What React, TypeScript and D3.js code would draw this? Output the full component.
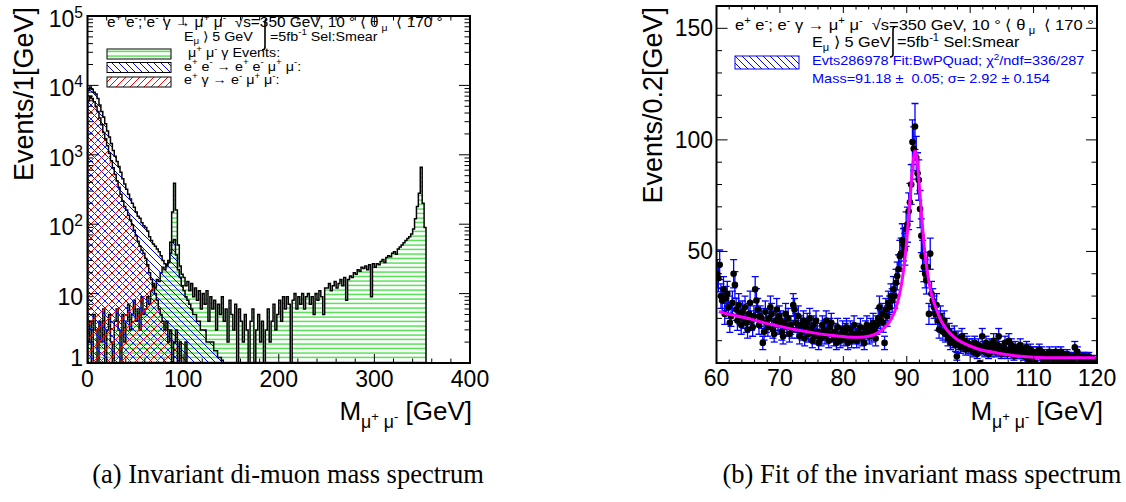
import * as d3 from "d3";

const SANS = "'Liberation Sans', Arial, Helvetica, sans-serif";
const SERIF = "'Liberation Serif', 'Times New Roman', serif";

// ---- left panel: di-muon mass, 2 GeV bins starting at 0 ----
const massBin = 2;
// mu+ mu- gamma events (green), 0 .. 354 GeV
const mumugamma = [
  2, 4, 1, 5, 3, 0, 4, 2, 6, 1, 3, 5, 2, 0, 4, 6, 3, 1, 5, 2,
  4, 7, 3, 5, 8, 4, 6, 3, 9, 5,
  6, 9, 7, 11, 14, 12, 16, 15, 20, 24, 22, 26, 30, 55, 150, 390, 160, 50, 25, 19,
  17, 13, 15, 11, 14, 9, 12, 8, 11, 6, 10, 7, 11, 4, 9, 6, 8, 3, 7, 5,
  9, 4, 6, 2, 8, 5, 3, 7, 1, 6, 4, 2, 5, 3, 0, 4, 6, 1, 3, 5,
  2, 4, 1, 3, 6, 2, 4, 7, 3, 5,
  8, 4, 9, 6, 9, 7, 0, 8, 10, 6, 9, 7, 10, 6, 9, 10, 7, 9, 5, 10,
  8, 11, 9, 5, 12,
  12, 14, 11, 13, 15, 12, 14, 16, 13, 17, 8, 16, 18, 17, 20, 19, 22, 21, 24, 23,
  25, 22, 26, 9, 27,
  24, 27, 26, 29, 31, 28, 33, 35, 34, 38, 40, 37, 44, 47, 50, 54, 58, 62, 66, 72,
  85, 120, 180, 280, 660, 200, 90,
];
// e+ e- -> e+ e- mu+ mu- (blue), 0 .. 144 GeV
const eeToEeMuMu = [
  8500, 9500, 8800, 8000, 7500, 6500, 5200, 4200, 3500, 2800,
  2200, 1800, 1450, 1150, 950, 800, 680, 560, 450, 380,
  320, 270, 230, 200, 175, 150, 130, 122, 105, 95,
  90, 80, 66, 58, 52, 48, 44, 40, 35, 30,
  27, 25, 28, 38, 55, 60, 36, 22, 17, 13,
  11, 9, 8, 7, 6, 5, 5, 4, 4, 3,
  3, 3, 2, 2, 2, 2, 1.5, 1.5, 1.2, 1.2,
  1.1, 1,
];
// e+ gamma -> e- mu+ mu- (red), 0 .. 110 GeV
const egToEMuMu = [
  6000, 7000, 6500, 5800, 5000, 4200, 3400, 2700, 2100, 1700,
  1350, 1050, 820, 650, 520, 420, 340, 270, 215, 180,
  160, 135, 115, 98, 82, 68, 57, 48, 42, 38,
  32, 26, 20, 16, 13, 10, 8, 6, 5, 4,
  3, 4, 2, 3, 1, 2, 3, 1, 2, 1,
  1, 2, 1, 1, 1,
];
const leftXTicks = [0, 100, 200, 300, 400];
const leftYDecades = [0, 1, 2, 3, 4, 5];

// ---- right panel: Z peak fit, 0.2 GeV bins from 60 to 120 ----
const fitBin = 0.2;
const fitCounts = [
  40, 38, 44, 30, 28, 33, 22, 29, 31, 25,
  18, 21, 27, 40, 35, 24, 19, 26, 22, 17,
  23, 20, 25, 18, 15, 22, 27, 19, 16, 21,
  33, 28, 24, 17, 21, 20, 9, 14, 23, 18,
  16, 20, 25, 22, 15, 13, 19, 24, 17, 21,
  19, 14, 12, 18, 22, 16, 20, 13, 17, 15,
  26, 24, 18, 15, 21, 12, 17, 14, 19, 11,
  16, 18, 13, 20, 15, 10, 17, 12, 19, 14,
  9, 13, 11, 17, 15, 12, 19, 14, 10, 16,
  18, 13, 11, 14, 9, 16, 12, 10, 13, 15,
  11, 14, 16, 9, 12, 15, 10, 13, 17, 12,
  10, 14, 12, 16, 11, 13, 9, 15, 17, 14,
  12, 16, 13, 18, 15, 11, 17, 20, 25, 19,
  22, 18, 9, 24, 21, 27, 25, 30, 28, 33,
  30, 36, 39, 42, 48, 49, 55, 53, 51, 60,
  62, 68, 72, 80, 99, 96, 106, 92, 85, 82,
  69, 57, 48, 43, 40, 37, 43, 22, 49, 31,
  28, 25, 22, 26, 19, 15, 21, 18, 14, 19,
  13, 16, 11, 14, 9, 12, 10, 13, 8, 3,
  11, 9, 7, 12, 8, 10, 6, 9, 7, 8,
  6, 8, 5, 9, 7, 4, 8, 0, 6, 12,
  7, 5, 9, 6, 4, 8, 5, 7, 10, 6,
  5, 8, 12, 6, 4, 7, 5, 9, 6, 4,
  10, 6, 8, 5, 3, 7, 4, 6, 5, 8,
  4, 6, 3, 5, 7, 2, 4, 6, 1, 5,
  3, 0, 5, 4, 6, 3, 5, 2, 4, 3,
  4, 2, 5, 3, 4, 2, 3, 5, 2, 4,
  3, 5, 2, 4, 3, 2, 4, 3, 2, 3,
  2, 1, 7, 4, 5, 3, 2, 0, 3, 2,
  3, 2, 1, 3, 0, 1, 2, 0, 1, 0,
];
// BW + quadratic fit
const fitCurveX = [60.4, 62, 64.7, 67, 70, 72.5, 75.3, 78, 80.5, 82.5, 84, 85.3, 86.5, 87.5, 88.2, 88.8, 89.2, 89.6, 90.0, 90.4, 90.7, 91.0, 91.3, 91.5, 91.8, 92.1, 92.4, 92.7, 93.0, 93.4, 93.8, 94.3, 94.7, 95.5, 96.3, 97.5, 98.9, 101, 104.2, 106.5, 109.5, 112, 114.8, 117, 119.8];
const fitCurveY = [23.1, 21.8, 20.2, 18.4, 16.4, 14.9, 13.5, 12.4, 11.7, 11.5, 12.0, 13.3, 15.8, 19.5, 23.9, 30, 35.9, 44, 55, 70, 80, 90, 95, 94, 86, 75, 64, 54, 46, 38, 32, 27, 23.9, 18.5, 15, 11.5, 9, 6.5, 4.5, 3.5, 2.7, 2.4, 2.3, 2.3, 2.3];
const rightXTicks = [60, 70, 80, 90, 100, 110, 120];
const rightYTicks = [50, 100, 150];

type Seg = [string, string?];
const OFF: Record<string, number> = { n: 0, sup: -0.4, sub: 0.3, ssup: 0.05 };
const SZ: Record<string, number> = { n: 1, sup: 0.68, sub: 0.68, ssup: 0.5 };

// text with super/subscripts; sx stretches it horizontally like the original output
function Rich({ x, y, segs, size, fill = "#000", anchor = "start", family = SANS, sx = 1 }: any) {
  let cur = 0;
  return (
    <text x={0} y={0} fontSize={size} fill={fill} textAnchor={anchor} fontFamily={family}
      style={{ whiteSpace: "pre" }} transform={`translate(${x},${y}) scale(${sx},1)`}>
      {segs.map(([t, k]: Seg, i: number) => {
        const off = OFF[k || "n"] * size;
        const dy = off - cur;
        cur = off;
        return <tspan key={i} dy={dy} fontSize={SZ[k || "n"] * size}>{t}</tspan>;
      })}
    </text>
  );
}

const Integral = ({ x, y0, y1 }: any) => (
  <path d={`M${x + 2},${y0} Q${x},${y0} ${x},${y0 + 3} L${x},${y1 - 3} Q${x},${y1} ${x - 3},${y1}`}
    fill="none" stroke="#000" strokeWidth={1.6} />
);

const header1: Seg[] = [["e"], ["+", "sup"], [" e"], ["-", "sup"], ["; e"], ["-", "sup"], [" γ → μ"], ["+", "sup"],
  [" μ"], ["-", "sup"], ["  √s=350 GeV, 10 ° ⟨ θ"], [" μ", "sub"], ["  ⟨ 170 °"]];
const header2a: Seg[] = [["E"], ["μ", "sub"], [" ⟩ 5 GeV"]];
const header2b: Seg[] = [["=5fb"], ["-1", "sup"], [" Sel:Smear"]];
const xTitle: Seg[] = [["M"], ["μ", "sub"], ["+", "ssup"], [" μ", "sub"], ["-", "ssup"], [" [GeV]"]];

export default function App() {
  // left scales
  const xL = d3.scaleLinear().domain([0, 400]).range([87.5, 470]);
  const yL = d3.scaleLog().domain([1, 1e5]).range([363, 16]);
  // right scales
  const xR = d3.scaleLinear().domain([60, 120]).range([716.5, 1097]);
  const yR = d3.scaleLinear().domain([0, 160]).range([363, 6]);

  const histPath = (vals: number[]) => {
    const yb = yL.range()[0];
    let d = `M${xL(0)},${yb}`;
    vals.forEach((v, i) => {
      const y = v >= 1 ? yL(v) : yb;
      d += `L${xL(i * massBin)},${y}L${xL((i + 1) * massBin)},${y}`;
    });
    return d + `L${xL(vals.length * massBin)},${yb}Z`;
  };

  const leftMinorX = d3.range(0, 401, 20);
  const leftMinorY: number[] = [];
  for (let e = 0; e < 5; e++) for (let k = 2; k < 10; k++) leftMinorY.push(k * Math.pow(10, e));
  const rightMinorX = d3.range(60, 120.01, 2);
  const rightMinorY = d3.range(0, 161, 10);

  const fitLine = d3.line<number>().x((_, i) => xR(fitCurveX[i])).y((d) => yR(d)).curve(d3.curveMonotoneX);

  const [lx0, lx1] = xL.range();
  const [ly0, ly1] = yL.range();
  const [rx0, rx1] = xR.range();
  const [ry0, ry1] = yR.range();

  return (
    <svg width={1126} height={502} style={{ position: "absolute", left: 0, top: 0, background: "#fff" }}>
      <defs>
        <pattern id="hGreen" width="8" height="4.5" patternUnits="userSpaceOnUse">
          <line x1="0" y1="2" x2="8" y2="2" stroke="#22dd22" strokeWidth="1.2" />
        </pattern>
        <pattern id="hBlue" width="7" height="7" patternUnits="userSpaceOnUse">
          <path d="M0,0L7,7M-1,6L1,8M6,-1L8,1" stroke="#0000ff" strokeWidth="1" />
        </pattern>
        <pattern id="hRed" width="7" height="7" patternUnits="userSpaceOnUse">
          <path d="M0,7L7,0M-1,1L1,-1M6,8L8,6" stroke="#ff0000" strokeWidth="1" />
        </pattern>
        <clipPath id="clipL"><rect x={lx0} y={ly1} width={lx1 - lx0} height={ly0 - ly1} /></clipPath>
        <clipPath id="clipR"><rect x={rx0} y={ry1} width={rx1 - rx0} height={ry0 - ry1} /></clipPath>
      </defs>

      {/* ===== left panel ===== */}
      <g clipPath="url(#clipL)">
        <path d={histPath(mumugamma)} fill="url(#hGreen)" stroke="#000" strokeWidth={1.5} />
        <path d={histPath(eeToEeMuMu)} fill="url(#hBlue)" stroke="#000" strokeWidth={1.5} />
        <path d={histPath(egToEMuMu)} fill="url(#hRed)" stroke="#000" strokeWidth={1.5} />
      </g>
      <rect x={lx0} y={ly1} width={lx1 - lx0} height={ly0 - ly1} fill="none" stroke="#000" strokeWidth={2} />
      <g stroke="#000" strokeWidth={1}>
        {leftMinorX.map((v) => {
          const len = v % 100 === 0 ? 9 : 4.5;
          return (
            <g key={v}>
              <line x1={xL(v)} x2={xL(v)} y1={ly0} y2={ly0 - len} />
              <line x1={xL(v)} x2={xL(v)} y1={ly1} y2={ly1 + len} />
            </g>
          );
        })}
        {leftYDecades.map((e) => (
          <g key={e}>
            <line x1={lx0} x2={lx0 + 11} y1={yL(10 ** e)} y2={yL(10 ** e)} />
            <line x1={lx1} x2={lx1 - 11} y1={yL(10 ** e)} y2={yL(10 ** e)} />
          </g>
        ))}
        {leftMinorY.map((v) => (
          <g key={v}>
            <line x1={lx0} x2={lx0 + 5.5} y1={yL(v)} y2={yL(v)} />
            <line x1={lx1} x2={lx1 - 5.5} y1={yL(v)} y2={yL(v)} />
          </g>
        ))}
      </g>
      {leftXTicks.map((v) => (
        <text key={v} x={xL(v)} y={387} textAnchor="middle" fontFamily={SANS} fontSize={23}>{v}</text>
      ))}
      {leftYDecades.map((e) => (
        <Rich key={e} x={83} y={e === 0 ? 366 : yL(10 ** e) + 11} size={23} anchor="end"
          segs={e === 0 ? [["1"]] : e === 1 ? [["10"]] : [["10"], [String(e), "sup"]]} />
      ))}
      <text transform="translate(33,7) rotate(-90)" textAnchor="end" fontFamily={SANS} fontSize={27}>Events/1[GeV]</text>
      <Rich x={472} y={420} size={26} anchor="end" segs={xTitle} />

      {/* left header + legend */}
      <Rich x={107} y={27} size={14} sx={1.1} segs={header1} />
      <Rich x={184} y={40.5} size={13} sx={1.1} segs={header2a} />
      <Integral x={265} y0={19} y1={50} />
      <Rich x={270} y={40.5} size={13} sx={1.1} segs={header2b} />
      <rect x={107} y={49} width={64} height={10} fill="url(#hGreen)" stroke="#000" strokeWidth={1} />
      <rect x={107} y={62.5} width={64} height={10} fill="url(#hBlue)" stroke="#000" strokeWidth={1} />
      <rect x={107} y={77} width={64} height={10} fill="url(#hRed)" stroke="#000" strokeWidth={1} />
      <Rich x={188} y={57} size={13} sx={1.1} segs={[["μ"], ["+", "sup"], [" μ"], ["-", "sup"], [" γ Events:"]]} />
      <Rich x={184} y={70.5} size={13} sx={1.1}
        segs={[["e"], ["+", "sup"], [" e"], ["-", "sup"], [" → e"], ["+", "sup"], [" e"], ["-", "sup"], [" μ"], ["+", "sup"], [" μ"], ["-", "sup"], [":"]]} />
      <Rich x={184} y={84} size={13} sx={1.1}
        segs={[["e"], ["+", "sup"], [" γ → e"], ["-", "sup"], [" μ"], ["+", "sup"], [" μ"], ["-", "sup"], [":"]]} />

      {/* ===== right panel ===== */}
      <g clipPath="url(#clipR)">
        <g stroke="#0000ff" strokeWidth={1.3}>
          {fitCounts.map((c, i) => {
            const xc = 60 + (i + 0.5) * fitBin;
            const px = xR(xc);
            const err = Math.sqrt(c);
            if (c === 0) return null;
            const yt = yR(c + err);
            const yb = yR(c - err);
            return (
              <g key={i}>
                <line x1={px} x2={px} y1={yt} y2={yb} />
                <line x1={px - 3.5} x2={px + 3.5} y1={yt} y2={yt} />
                <line x1={px - 3.5} x2={px + 3.5} y1={yb} y2={yb} />
                <line x1={xR(xc - fitBin / 2)} x2={xR(xc + fitBin / 2)} y1={yR(c)} y2={yR(c)} />
              </g>
            );
          })}
        </g>
        {fitCounts.map((c, i) => (
          <circle key={i} cx={xR(60 + (i + 0.5) * fitBin)} cy={yR(c)} r={3.3} fill="#000" />
        ))}
        <path d={fitLine(fitCurveY) || ""} fill="none" stroke="#ff00ff" strokeWidth={3} />
      </g>
      <rect x={rx0} y={ry1} width={rx1 - rx0} height={ry0 - ry1} fill="none" stroke="#000" strokeWidth={2} />
      <g stroke="#000" strokeWidth={1}>
        {rightMinorX.map((v) => {
          const len = Math.round(v) % 10 === 0 ? 7 : 3.5;
          return (
            <g key={v}>
              <line x1={xR(v)} x2={xR(v)} y1={ry0} y2={ry0 - len} />
              <line x1={xR(v)} x2={xR(v)} y1={ry1} y2={ry1 + len} />
            </g>
          );
        })}
        {rightMinorY.map((v) => {
          const len = v % 50 === 0 ? 11 : 5.5;
          return (
            <g key={v}>
              <line x1={rx0} x2={rx0 + len} y1={yR(v)} y2={yR(v)} />
              <line x1={rx1} x2={rx1 - len} y1={yR(v)} y2={yR(v)} />
            </g>
          );
        })}
      </g>
      {rightXTicks.map((v) => (
        <text key={v} x={xR(v)} y={386} textAnchor="middle" fontFamily={SANS} fontSize={23}>{v}</text>
      ))}
      {rightYTicks.map((v) => (
        <text key={v} x={713} y={yR(v) + 8} textAnchor="end" fontFamily={SANS} fontSize={23}>{v}</text>
      ))}
      <text transform="translate(662,7) rotate(-90)" textAnchor="end" fontFamily={SANS} fontSize={27}>Events/0.2[GeV]</text>
      <Rich x={1103} y={420} size={26} anchor="end" segs={xTitle} />

      {/* right header + legend */}
      <Rich x={735} y={29.5} size={15} sx={1.1} segs={header1} />
      <Rich x={812} y={47} size={14.8} sx={1.1} segs={header2a} />
      <Integral x={893} y0={27} y1={57} />
      <Rich x={897} y={47} size={14.8} sx={1.1} segs={header2b} />
      <rect x={735} y={56} width={64} height={13} fill="url(#hBlue)" stroke="#0000ff" strokeWidth={1} />
      <Rich x={812} y={65} size={13.2} sx={1.1} fill="#0000ff"
        segs={[["Evts286978 Fit:BwPQuad; χ"], ["2", "sup"], ["/ndf=336/287"]]} />
      <Rich x={812} y={82.5} size={13.2} sx={1.1} fill="#0000ff" segs={[["Mass=91.18 ±  0.05; σ= 2.92 ± 0.154"]]} />

      {/* captions */}
      <text x={288} y={483} textAnchor="middle" fontFamily={SERIF} fontSize={26.5}>(a) Invariant di-muon mass spectrum</text>
      <text x={922} y={483} textAnchor="middle" fontFamily={SERIF} fontSize={26.5}>(b) Fit of the invariant mass spectrum</text>
    </svg>
  );
}
